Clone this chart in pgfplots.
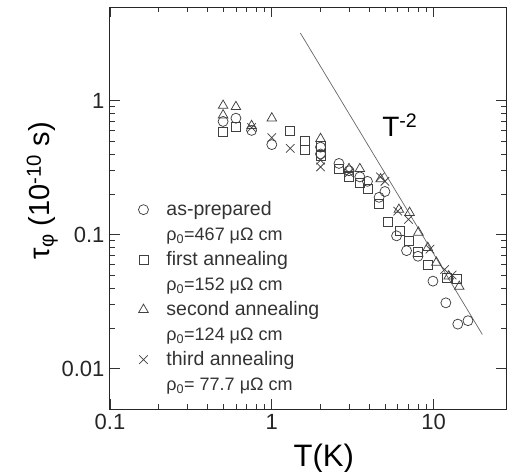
\documentclass[border=0pt]{standalone}
\usepackage{fontspec}
\setmainfont{Liberation Sans}
\usepackage{pgfplots}
\pgfplotsset{compat=1.18}

\begin{document}
\begin{tikzpicture}
\useasboundingbox (-110pt,-63pt) rectangle (397pt,409pt);
\begin{axis}[
    at={(0,0)}, anchor=south west,
    scale only axis,
    width=396pt, height=402pt,
    xmode=log, ymode=log,
    xmin=0.1, xmax=28,
    ymin=0.005, ymax=5,
    xtick={0.1,1,10}, xticklabels={0.1,1,10},
    ytick={0.01,0.1,1}, yticklabels={0.01,0.1,1},
    tick align=inside,
    major tick length=10pt,
    minor tick length=5pt,
    axis line style={line width=1pt, black!85},
    every tick/.style={black!80, line width=0.7pt},
    tick label style={font=\fontsize{22}{26}\selectfont, black!85},
    xticklabel style={yshift=-2pt},
    yticklabel style={xshift=-2pt},
    xlabel={T(K)},
    xlabel style={at={(axis description cs:0.54,-0.144)}, anchor=base,
        font=\fontsize{31}{36}\selectfont},
    ylabel={τ\textsubscript{φ} (10\textsuperscript{-10} s)},
    ylabel style={at={(axis description cs:-0.1515,0.543)}, anchor=base,
        font=\fontsize{29}{34}\selectfont},
    legend style={
        at={(axis description cs:0.063,0.527)}, anchor=north west,
        draw=none, fill=none, inner sep=0pt, outer sep=0pt,
        column sep=18pt, row sep=0pt,
        font=\fontsize{19.5}{22}\selectfont, text=black!80,
        nodes={inner ysep=0pt, inner xsep=0pt, text height=18pt, text depth=7pt},
    },
    legend cell align=left,
    mark options={solid, line width=0.75pt, black!75},
    clip=false,
]
% as-prepared
\addplot[only marks, mark=o, mark size=5pt] coordinates {
(0.5,0.70) (0.6,0.74) (0.75,0.60) (1.0,0.47) (2.0,0.45) (2.0,0.40)
(2.6,0.34) (3.0,0.30) (3.5,0.27) (3.9,0.25) (4.6,0.19) (5.0,0.21)
(5.9,0.098) (6.8,0.076) (8.0,0.069) (9.9,0.045) (11.9,0.031)
(14.1,0.0215) (16.3,0.0228)
};
\addlegendentry{as-prepared}
\addlegendimage{empty legend}
\addlegendentry{\fontsize{18}{22}\selectfont ρ\textsubscript{0}=467 μΩ cm}
% first annealing
\addplot[only marks, mark=square, mark size=4.5pt] coordinates {
(0.5,0.58) (0.6,0.64) (1.3,0.59) (1.6,0.50) (1.6,0.43) (2.0,0.46)
(2.0,0.39) (2.6,0.31) (3.0,0.27) (3.5,0.245) (3.9,0.22) (4.6,0.17)
(5.2,0.125) (6.2,0.106) (7.0,0.09) (8.0,0.075) (9.2,0.060)
(12.0,0.048) (14.0,0.047)
};
\addlegendentry{first annealing}
\addlegendimage{empty legend}
\addlegendentry{\fontsize{18}{22}\selectfont ρ\textsubscript{0}=152 μΩ cm}
% second annealing
\addplot[only marks, mark=triangle, mark size=5.5pt] coordinates {
(0.5,0.92) (0.5,0.78) (0.6,0.90) (0.75,0.65) (1.0,0.74) (2.0,0.52)
(3.0,0.31) (3.5,0.31) (4.7,0.26) (6.1,0.154) (7.1,0.146) (8.05,0.104)
(9.2,0.080) (10.4,0.062) (12.4,0.049) (14.4,0.041)
};
\addlegendentry{second annealing}
\addlegendimage{empty legend}
\addlegendentry{\fontsize{18}{22}\selectfont ρ\textsubscript{0}=124 μΩ cm}
% third annealing
\addplot[only marks, mark=x, mark size=6pt] coordinates {
(0.75,0.63) (1.0,0.53) (1.3,0.44) (2.0,0.36) (2.0,0.32) (3.0,0.29)
(4.7,0.27) (5.0,0.25) (6.0,0.15) (7.0,0.13) (9.5,0.078) (11.7,0.055)
(13.0,0.050)
};
\addlegendentry{third annealing}
\addlegendimage{empty legend}
\addlegendentry{\fontsize{18}{22}\selectfont ρ\textsubscript{0}= 77.7 μΩ cm}
% T^-2 guide
\addplot[black!60, line width=0.7pt, forget plot] coordinates {(1.5,3.2) (20,0.018)};
\node[anchor=base west, inner sep=0pt, font=\fontsize{28}{32}\selectfont]
    at (axis cs:4.8,0.537) {T\textsuperscript{-2}};
\end{axis}
\end{tikzpicture}
\end{document}
